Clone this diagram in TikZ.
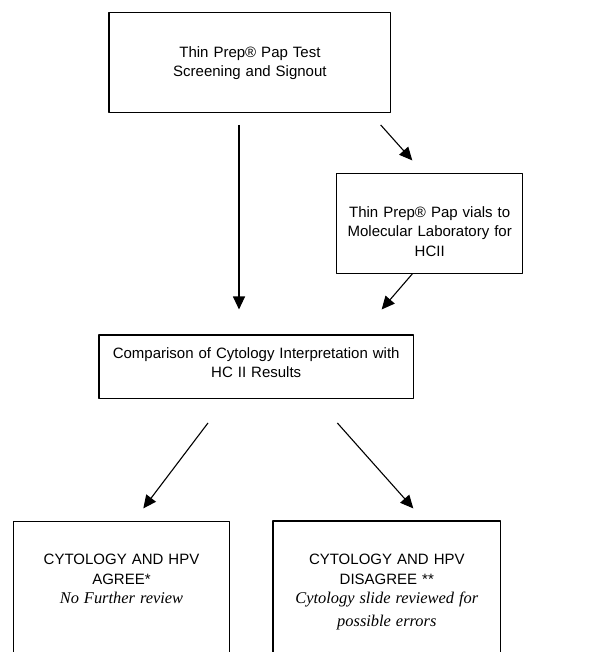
\documentclass[tikz,border=0pt]{standalone}
\usepackage{fontspec}
\setmainfont{Liberation Sans}
\newfontfamily\timesfont{Liberation Serif}
\newcommand\itnote{\timesfont\itshape\fontsize{16.4}{20}\selectfont}
\usetikzlibrary{arrows.meta}
\begin{document}
\begin{tikzpicture}[x=1pt,y=-1pt,>={Triangle[length=13pt,width=12pt]}, line join=round,
	box/.style={draw,line width=1.2pt,inner sep=0pt,align=center,font=\fontsize{15}{19.5}\selectfont},
	arr/.style={->,line width=1.1pt}]
\useasboundingbox (0,0) rectangle (593,652);
\clip (0,0) rectangle (593,652);
% Hộp
\node[box,text width=281.7pt,text height=44.8pt,text depth=55.2pt] (test) at (249.9,62.3) {Thin Prep® Pap Test\\Screening and Signout};
\node[box,text width=186pt,text height=44.1pt,text depth=55.9pt] (vial) at (429.7,223.3) {Thin Prep® Pap vials to\\Molecular Laboratory for\\HCII};
\node[box,text width=314.3pt,text height=23.1pt,text depth=40.2pt] (cmp) at (256.2,366.7) {Comparison of Cytology Interpretation with\\HC II Results};
\node[box,text width=216.4pt,text height=43pt,text depth=135.3pt] (agree) at (121.5,610.85) {CYTOLOGY AND HPV\\AGREE*\\{\itnote No Further review}};
\node[box,text width=227.7pt,text height=43.7pt,text depth=135.3pt] (disagree) at (386.8,610.5) {CYTOLOGY AND HPV\\DISAGREE **\\{\itnote Cytology slide reviewed for}\\[3.5pt]{\itnote possible errors}};
% Mũi tên
\draw[arr] ([xshift=-10.9pt,yshift=-12pt]test.south) -- ([xshift=-17.2pt,yshift=25pt]cmp.north);
\draw[arr] ([xshift=-10.7pt,yshift=-12pt]test.south east) -- ([xshift=-17.4pt,yshift=12.3pt]vial.north);
\draw[arr] ([xshift=-17.4pt]vial.south) -- ([xshift=-32.3pt,yshift=25pt]cmp.north east);
\draw[arr] ([xshift=-48.2pt,yshift=-24pt]cmp.south) -- ([xshift=21.8pt,yshift=12.7pt]agree.north);
\draw[arr] ([xshift=81.1pt,yshift=-24pt]cmp.south) -- ([xshift=26.5pt,yshift=12pt]disagree.north);
\end{tikzpicture}
\end{document}
